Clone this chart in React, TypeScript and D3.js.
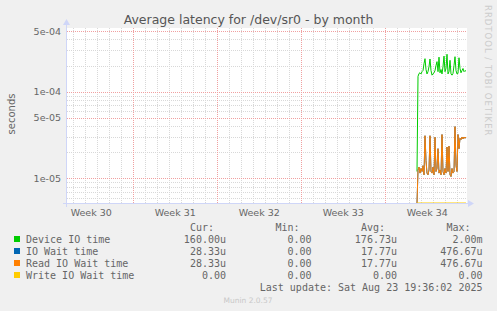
import { useEffect } from 'react'
import * as d3 from 'd3'

const W = 497
const H = 311
const plot = { left: 67, right: 467, top: 28, bottom: 203 }

// time frame: munin "by month" = 800 hours, one rrd row (2h) per pixel
const lastUpdate = Date.UTC(2025, 7, 23, 19, 36, 2)
const spanHours = 800
const dataStart = Date.UTC(2025, 7, 19, 15, 36)
const stepHours = 2

// y axis (log)
const yDomain = [5.2e-6, 5.42e-4]
const yTicks = [5e-4, 1e-4, 5e-5, 1e-5]
const yTickLabels = ['5e-04', '1e-04', '5e-05', '1e-05']

// x axis
const weekStarts = ['2025-07-20', '2025-07-27', '2025-08-03', '2025-08-10', '2025-08-17']
const weekLabels = ['Week 30', 'Week 31', 'Week 32', 'Week 33', 'Week 34']

// series, in microseconds
const deviceIoUs = [12, 150, 162, 165, 160, 170, 175, 210, 240, 180, 160, 170, 195, 238, 175, 155, 160, 165, 175, 200, 222, 170, 250, 165, 180, 160, 195, 257, 170, 185, 270, 160, 170, 230, 160, 155, 162, 200, 253, 175, 160, 162, 246, 185, 165, 175, 185, 170, 175, 172]
const readWaitUs = [0, 12.4, 13.5, 11.5, 13.0, 12.0, 14.0, 11.0, 31.0, 16.0, 11.5, 11.0, 12.5, 31.0, 12.0, 11.5, 13.5, 11.0, 29.8, 12.0, 13.0, 22.0, 11.5, 12.5, 11.0, 32.0, 12.0, 11.0, 13.0, 11.5, 23.0, 12.0, 23.5, 11.0, 10.5, 13.0, 11.5, 12.0, 39.5, 14.0, 12.0, 32.0, 22.0, 29.0, 28.0, 30.0, 28.5, 30.0, 29.0, 30.0]
const ioWaitUs = readWaitUs // same values (identical legend stats)
const writeWaitUs = [0, 0, 0, 0, 0, 0, 0, 0, 0, 0, 0, 0, 0, 0, 0, 0, 0, 0, 0, 0, 0, 0, 0, 0, 0, 0, 0, 0, 0, 0, 0, 0, 0, 0, 0, 0, 0, 0, 0, 0, 0, 0, 0, 0, 0, 0, 0, 0, 0, 0]

// legend
const legendNames = ['Device IO time', 'IO Wait time', 'Read IO Wait time', 'Write IO Wait time']
const legendColors = ['#00cc00', '#0066b3', '#ff8000', '#ffcc00']
const legendHeaders = ['Cur:', 'Min:', 'Avg:', 'Max:']
const curValues = ['160.00u', '28.33u', '28.33u', '0.00 ']
const minValues = ['0.00 ', '0.00 ', '0.00 ', '0.00 ']
const avgValues = ['176.73u', '17.77u', '17.77u', '0.00 ']
const maxValues = ['2.00m', '476.67u', '476.67u', '0.00 ']

function App() {
  const svgId = 'latency-month'

  useEffect(() => {
    const svg = d3.select('#' + svgId)
    svg.selectAll('*').remove()

    const end = new Date(lastUpdate)
    const start = new Date(lastUpdate - spanHours * 3600 * 1000)
    const x = d3.scaleUtc().domain([start, end]).range([plot.left, plot.right])
    const y = d3.scaleLog().domain(yDomain).range([plot.bottom, plot.top])

    svg.append('rect').attr('width', W).attr('height', H).attr('fill', '#f0f0f0')
    svg.append('rect')
      .attr('x', plot.left).attr('y', plot.top)
      .attr('width', plot.right - plot.left).attr('height', plot.bottom - plot.top)
      .attr('fill', '#ffffff')

    const grid = svg.append('g').attr('shape-rendering', 'crispEdges')

    // minor horizontal grid
    const minorY: number[] = []
    ;[1e-6, 1e-5, 1e-4].forEach(dec => {
      for (let k = 2; k <= 9; k++) {
        const v = k * dec
        if (v > yDomain[0] && v < yDomain[1] && !yTicks.some(t => Math.abs(t - v) / t < 1e-6)) minorY.push(v)
      }
    })
    grid.selectAll('line.hminor').data(minorY).join('line')
      .attr('x1', plot.left).attr('x2', plot.right)
      .attr('y1', d => Math.round(y(d)) + 0.5).attr('y2', d => Math.round(y(d)) + 0.5)
      .attr('stroke', '#d8d8d8').attr('stroke-dasharray', '1,1')

    // minor vertical grid (days)
    const days = d3.utcDay.range(start, end)
    grid.selectAll('line.vminor').data(days).join('line')
      .attr('x1', d => Math.round(x(d)) + 0.5).attr('x2', d => Math.round(x(d)) + 0.5)
      .attr('y1', plot.top).attr('y2', plot.bottom)
      .attr('stroke', '#d8d8d8').attr('stroke-dasharray', '1,1')

    // major grid
    grid.selectAll('line.hmajor').data(yTicks).join('line')
      .attr('x1', plot.left).attr('x2', plot.right)
      .attr('y1', d => Math.round(y(d)) + 0.5).attr('y2', d => Math.round(y(d)) + 0.5)
      .attr('stroke', '#f0a0a0').attr('stroke-dasharray', '1,1')
    const sundays = d3.utcSunday.range(start, end)
    grid.selectAll('line.vmajor').data(sundays).join('line')
      .attr('x1', d => Math.round(x(d)) + 0.5).attr('x2', d => Math.round(x(d)) + 0.5)
      .attr('y1', plot.top).attr('y2', plot.bottom)
      .attr('stroke', '#f0a0a0').attr('stroke-dasharray', '1,1')

    // axes + arrows
    const axisColor = '#cfd6f8'
    svg.append('line')
      .attr('x1', plot.left - 0.5).attr('x2', plot.left - 0.5)
      .attr('y1', plot.bottom + 4).attr('y2', plot.top - 5)
      .attr('stroke', axisColor)
    svg.append('path')
      .attr('d', `M${plot.left - 4},${plot.top - 3} L${plot.left - 0.5},${plot.top - 9} L${plot.left + 3},${plot.top - 3} Z`)
      .attr('fill', axisColor)
    svg.append('line')
      .attr('x1', plot.left - 4).attr('x2', plot.right + 2)
      .attr('y1', plot.bottom + 0.5).attr('y2', plot.bottom + 0.5)
      .attr('stroke', axisColor)
    svg.append('path')
      .attr('d', `M${plot.right + 1},${plot.bottom - 3} L${plot.right + 7},${plot.bottom + 0.5} L${plot.right + 1},${plot.bottom + 4} Z`)
      .attr('fill', axisColor)

    // tick labels
    const font = 'DejaVu Sans, sans-serif'
    svg.selectAll('text.ytick').data(yTicks).join('text')
      .attr('x', plot.left - 6).attr('y', d => y(d) + 3.5)
      .attr('text-anchor', 'end')
      .attr('font-family', font).attr('font-size', 9.5).attr('fill', '#666')
      .text((d, i) => yTickLabels[i])
    svg.selectAll('text.xtick').data(weekStarts).join('text')
      .attr('x', d => x(new Date(Date.parse(d + 'T00:00:00Z') + 3.5 * 86400000)))
      .attr('y', plot.bottom + 13)
      .attr('text-anchor', 'middle')
      .attr('font-family', font).attr('font-size', 9.5).attr('fill', '#666')
      .text((d, i) => weekLabels[i])

    // series
    const clip = svg.append('clipPath').attr('id', 'plot-clip')
    clip.append('rect')
      .attr('x', plot.left).attr('y', plot.top - 1)
      .attr('width', plot.right - plot.left + 1).attr('height', plot.bottom - plot.top + 1)
    const yv = (v: number) => (v <= yDomain[0] ? plot.bottom : y(v))
    const line = d3.line<number>()
      .x((d, i) => x(new Date(dataStart + i * stepHours * 3600 * 1000)))
      .y(d => yv(d * 1e-6))
    const series = [deviceIoUs, ioWaitUs, readWaitUs, writeWaitUs]
    const lines = svg.append('g').attr('clip-path', 'url(#plot-clip)')
    series.forEach((s, i) => {
      lines.append('path')
        .attr('d', line(s))
        .attr('fill', 'none')
        .attr('stroke', legendColors[i])
        .attr('stroke-width', 1)
    })

    // title and side labels
    svg.append('text')
      .attr('x', 248.5).attr('y', 23.5)
      .attr('text-anchor', 'middle')
      .attr('font-family', font).attr('font-size', 12.5).attr('fill', '#555')
      .text('Average latency for /dev/sr0 - by month')
    svg.append('text')
      .attr('transform', 'translate(15,114) rotate(-90)')
      .attr('text-anchor', 'middle')
      .attr('font-family', font).attr('font-size', 10).attr('fill', '#666')
      .text('seconds')
    svg.append('text')
      .attr('transform', 'translate(485,5) rotate(90)')
      .attr('font-family', font).attr('font-size', 8.5).attr('letter-spacing', 1)
      .attr('fill', '#cccccc')
      .text('RRDTOOL / TOBI OETIKER')

    // legend
    const mono = 'DejaVu Sans Mono, monospace'
    const colEnds = [226, 311.5, 397, 482.5]
    const legend = svg.append('g').attr('font-family', mono).attr('font-size', 10).attr('fill', '#666')
      .style('white-space', 'pre')
    legendHeaders.forEach((h, c) => {
      legend.append('text').attr('x', colEnds[c] - 12).attr('y', 231).attr('text-anchor', 'end').text(h)
    })
    const cols = [curValues, minValues, avgValues, maxValues]
    legendNames.forEach((name, r) => {
      const by = 243 + r * 12
      legend.append('rect').attr('x', 14).attr('y', by - 7).attr('width', 6).attr('height', 6)
        .attr('fill', legendColors[r])
      legend.append('text').attr('x', 26).attr('y', by).text(name)
      cols.forEach((col, c) => {
        legend.append('text').attr('x', colEnds[c]).attr('y', by).attr('text-anchor', 'end').text(col[r])
      })
    })
    legend.append('text').attr('x', 482.5).attr('y', 291).attr('text-anchor', 'end')
      .text('Last update: Sat Aug 23 19:36:02 2025')

    svg.append('text')
      .attr('x', 248).attr('y', 303)
      .attr('text-anchor', 'middle')
      .attr('font-family', font).attr('font-size', 7.5).attr('fill', '#c8c8c8')
      .text('Munin 2.0.57')
  }, [])

  return (
    <svg id={svgId} width={W} height={H} style={{ display: 'block', position: 'absolute', left: 0, top: 0 }}></svg>
  )
}

export default App
